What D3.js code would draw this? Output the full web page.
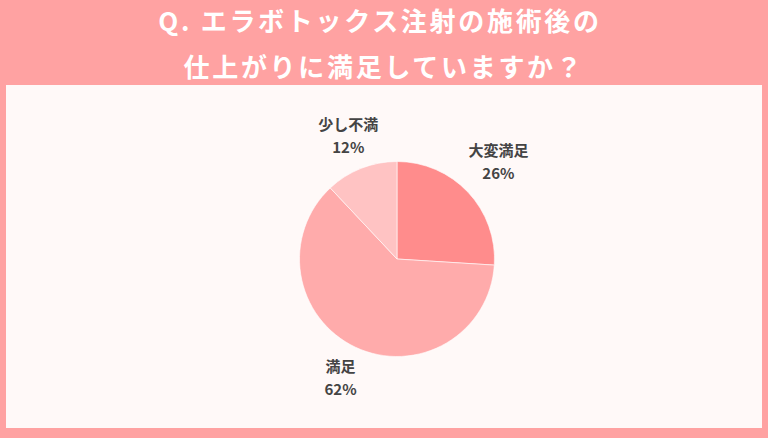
<!DOCTYPE html>
<html>
<head>
<meta charset="utf-8">
<script src="https://cdn.jsdelivr.net/npm/d3@7"></script>
<style>
  body { margin: 0; background: #FFA2A2; }
  svg { display: block; font-family: "Noto Sans CJK JP", "Noto Sans", sans-serif; }
</style>
</head>
<body>
<svg id="svg" width="768" height="438"></svg>
<script>
// Chart data
var titleLines = ["Q. エラボトックス注射の施術後の", "仕上がりに満足していますか？"];
var categories = ["大変満足", "満足", "少し不満"];
var values = [26, 62, 12];
var colors = ["#FF8C8C", "#FFABAB", "#FFC3C3"];

var svg = d3.select("svg");
var width = 768, height = 438;

// Background and white panel
svg.append("rect").attr("width", width).attr("height", height).attr("fill", "#FFA2A2");
svg.append("rect")
    .attr("x", 6).attr("y", 85)
    .attr("width", 756).attr("height", 343)
    .attr("fill", "#FFF9F8");

// Title
svg.selectAll(".title")
    .data(titleLines)
    .enter().append("text")
    .attr("class", "title")
    .attr("x", function(d, i) { return i === 0 ? 380 : 384; })
    .attr("y", function(d, i) { return 31 + i * 46; })
    .attr("text-anchor", "middle")
    .attr("fill", "#fff")
    .attr("font-size", 26)
    .attr("font-weight", "bold")
    .attr("letter-spacing", 2.7)
    .text(function(d) { return d; });

// Pie
var cx = 397, cy = 259, radius = 97.5;
var pie = d3.pie().sort(null).value(function(d) { return d; });
var arc = d3.arc().innerRadius(0).outerRadius(radius);
var arcs = pie(values);

var pieGroup = svg.append("g").attr("transform", "translate(" + cx + "," + cy + ")");
pieGroup.selectAll("path")
    .data(arcs)
    .enter().append("path")
    .attr("d", arc)
    .attr("fill", function(d, i) { return colors[i]; })
    .attr("stroke", "#fff")
    .attr("stroke-width", 0.6);

// Labels outside the pie
var labelArc = d3.arc().innerRadius(radius * 1.3).outerRadius(radius * 1.3);
var labelOffsets = [[9, -4], [-2.5, 10], [-2, 0.5]];
var labels = pieGroup.selectAll(".label")
    .data(arcs)
    .enter().append("text")
    .attr("class", "label")
    .attr("text-anchor", "middle")
    .attr("fill", "#444")
    .attr("font-size", 15)
    .attr("font-weight", "bold")
    .attr("transform", function(d, i) {
        var c = labelArc.centroid(d);
        return "translate(" + (c[0] + labelOffsets[i][0]) + "," + (c[1] + labelOffsets[i][1]) + ")";
    });
labels.append("tspan").attr("x", 0).attr("y", -12).text(function(d, i) { return categories[i]; });
labels.append("tspan").attr("x", 0).attr("y", 11).text(function(d, i) { return values[i] + "%"; });
</script>
</body>
</html>
